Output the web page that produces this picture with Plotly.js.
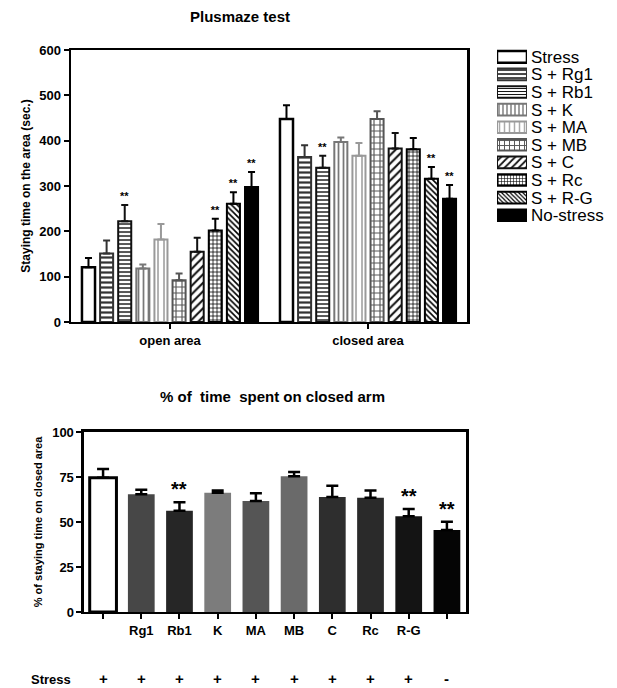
<!DOCTYPE html>
<html>
<head>
<meta charset="utf-8">
<script src="https://cdn.plot.ly/plotly-3.0.1.min.js"></script>
<style>html,body{margin:0;padding:0;background:#fff;}#chart{width:617px;height:688px;}</style>
</head>
<body>
<div id="chart"></div>
<script>
// ---------- Top chart data (Plusmaze test) ----------
const areaCategories = ['open area', 'closed area'];
const seriesNames = ['Stress', 'S + Rg1', 'S + Rb1', 'S + K', 'S + MA', 'S + MB', 'S + C', 'S + Rc', 'S + R-G', 'No-stress'];
const openMean   = [121, 151, 222, 118, 182, 92, 155, 202, 261, 298];
const openErr    = [20, 29, 36, 9, 34, 15, 31, 26, 25, 33];
const closedMean = [448, 364, 340, 397, 367, 448, 383, 381, 316, 272];
const closedErr  = [30, 26, 27, 10, 28, 17, 34, 25, 26, 30];
const openSig    = [false, false, true, false, false, false, false, true, true, true];
const closedSig  = [false, false, true, false, false, false, false, false, true, true];

// ---------- Bottom chart data (% of time on closed arm) ----------
const groupIds    = ['Stress', 'Rg1', 'Rb1', 'K', 'MA', 'MB', 'C', 'Rc', 'R-G', 'No-stress'];
const groupLabels = [' ', 'Rg1', 'Rb1', 'K', 'MA', 'MB', 'C', 'Rc', 'R-G', ' '];
const pctMean     = [74.6, 65.4, 56.2, 66.2, 61.6, 75.4, 63.9, 63.4, 53.2, 45.6];
const pctErr      = [4.8, 2.5, 4.8, 1.3, 4.3, 2.4, 6.3, 4.1, 4.0, 4.5];
const pctSig      = [false, false, true, false, false, false, false, false, true, true];
const stressSigns = ['+', '+', '+', '+', '+', '+', '+', '+', '+', '-'];

// ---------- Styles ----------
const topStyles = [
  {fill: '#ffffff', line: '#000', lw: 2.5, shape: '',  fg: '#000', size: 6, sol: 0.3},
  {fill: '#ffffff', line: '#333', lw: 2,   shape: '-', fg: '#333', size: 5, sol: 0.45},
  {fill: '#ffffff', line: '#111', lw: 2,   shape: '-', fg: '#111', size: 4, sol: 0.35},
  {fill: '#ffffff', line: '#777', lw: 2,   shape: '|', fg: '#777', size: 5, sol: 0.35},
  {fill: '#ffffff', line: '#999', lw: 2,   shape: '|', fg: '#aaa', size: 6, sol: 0.3},
  {fill: '#ffffff', line: '#555', lw: 2,   shape: '+', fg: '#555', size: 6, sol: 0.35},
  {fill: '#ffffff', line: '#111', lw: 2,   shape: '/', fg: '#111', size: 6, sol: 0.35},
  {fill: '#ffffff', line: '#000', lw: 2,   shape: '+', fg: '#000', size: 4, sol: 0.35},
  {fill: '#ffffff', line: '#000', lw: 2,   shape: '\\', fg: '#000', size: 4, sol: 0.4},
  {fill: '#000000', line: '#000', lw: 2,   shape: '',  fg: '#000', size: 6, sol: 0.3}
];
const bottomColors = ['#ffffff', '#474747', '#262626', '#7c7c7c', '#555555', '#6a6a6a', '#2e2e2e', '#2a2a2a', '#141414', '#050505'];

const FONT = 'Liberation Sans, Arial, Helvetica, sans-serif';
const traces = [];

function markerFor(st, sizeAdj) {
  const m = {color: st.fill, line: {color: st.line, width: st.lw}};
  if (st.shape) m.pattern = {shape: st.shape, fgcolor: st.fg, bgcolor: st.fill, size: st.size + (sizeAdj || 0), solidity: st.sol};
  return m;
}

seriesNames.forEach((name, i) => {
  const st = topStyles[i];
  traces.push({
    type: 'bar', name: name, x: areaCategories, y: [openMean[i], closedMean[i]],
    xaxis: 'x', yaxis: 'y', offsetgroup: 'g' + i, marker: markerFor(st), showlegend: false,
    error_y: {type: 'data', symmetric: false, array: [openErr[i], closedErr[i]], arrayminus: [0, 0],
              thickness: 2, width: 3.5, color: st.line},
    hoverinfo: 'skip'
  });
});
// invisible bars carrying the significance marks above the error bars
seriesNames.forEach((name, i) => {
  traces.push({
    type: 'bar', name: name + ' sig', showlegend: false, x: areaCategories,
    y: [openMean[i] + openErr[i], closedMean[i] + closedErr[i]],
    xaxis: 'x', yaxis: 'y', offsetgroup: 'g' + i,
    marker: {color: 'rgba(0,0,0,0)', line: {width: 0}},
    text: [openSig[i] ? '**' : '', closedSig[i] ? '**' : ''],
    textposition: 'outside', constraintext: 'none', cliponaxis: false, textangle: 0,
    textfont: {family: FONT, size: 11, color: '#000', weight: 'bold'},
    hoverinfo: 'skip'
  });
});

// legend key: wide swatches drawn as a small horizontal-bar panel, one trace per series
seriesNames.forEach((name, i) => {
  traces.push({
    type: 'bar', orientation: 'h', y: [name], x: [1], xaxis: 'x3', yaxis: 'y3', offsetgroup: 'legend',
    showlegend: false, width: 0.66, hoverinfo: 'skip', marker: markerFor(topStyles[i], -1)
  });
});

traces.push({
  type: 'bar', x: groupIds, y: pctMean, xaxis: 'x2', yaxis: 'y2', showlegend: false, width: 0.7,
  marker: {color: bottomColors, line: {color: bottomColors.map((c, i) => i === 0 ? '#000' : c), width: bottomColors.map((c, i) => i === 0 ? 3 : 0)}},
  error_y: {type: 'data', symmetric: false, array: pctErr, arrayminus: pctErr.map(() => 0), thickness: 2.5, width: 6, color: '#000'},
  hoverinfo: 'skip'
});

const annotations = [];
annotations.push({text: 'Plusmaze test', xref: 'paper', yref: 'paper', x: 0.389, y: 0.976, yanchor: 'middle', showarrow: false,
  font: {family: FONT, size: 15, color: '#000', weight: 'bold'}});
annotations.push({text: '% of  time  spent on closed arm', xref: 'paper', yref: 'paper', x: 0.441, y: 0.424, yanchor: 'middle', showarrow: false,
  font: {family: FONT, size: 15, color: '#000', weight: 'bold'}});
pctSig.forEach((s, i) => {
  if (s) annotations.push({text: '**', xref: 'x2', yref: 'y2', x: groupIds[i], y: pctMean[i] + pctErr[i], yanchor: 'bottom',
    showarrow: false, yshift: 0, font: {family: FONT, size: 20, color: '#000', weight: 'bold'}});
});
annotations.push({text: 'Stress', xref: 'paper', yref: 'paper', x: 0.047, y: 0.012, yanchor: 'middle', showarrow: false,
  font: {family: FONT, size: 13, color: '#000', weight: 'bold'}});
stressSigns.forEach((s, i) => {
  annotations.push({text: s, xref: 'x2', yref: 'paper', x: groupIds[i], y: 0.014, yanchor: 'middle', showarrow: false,
    font: {family: FONT, size: 15, color: '#000', weight: 'bold'}});
});

const axisCommon = {showline: true, linecolor: '#000', mirror: true, ticks: 'outside', tickcolor: '#000',
  showgrid: false, zeroline: false, automargin: false, fixedrange: true};

const layout = {
  width: 617, height: 688, margin: {l: 0, r: 0, t: 0, b: 0},
  paper_bgcolor: '#fff', plot_bgcolor: '#fff',
  font: {family: FONT, color: '#000'},
  barmode: 'group', bargap: 0.085, bargroupgap: 0.28,
  showlegend: false,
  xaxis: Object.assign({}, axisCommon, {domain: [0.1151, 0.7569], anchor: 'y', type: 'category', linewidth: 2.5,
    ticklen: 5, tickwidth: 2, tickfont: {family: FONT, size: 13, weight: 'bold'}}),
  yaxis: Object.assign({}, axisCommon, {domain: [0.532, 0.9273], anchor: 'x', range: [0, 600], dtick: 100, linewidth: 2.5,
    ticklen: 5, tickwidth: 2, tickfont: {family: FONT, size: 13, weight: 'bold'},
    title: {text: 'Staying time on the area (sec.)', standoff: 6, font: {family: FONT, size: 12, weight: 'bold'}}}),
  xaxis2: Object.assign({}, axisCommon, {domain: [0.1361, 0.7553], anchor: 'y2', type: 'category', linewidth: 2.5,
    ticklen: 5, tickwidth: 2, tickvals: groupIds, ticktext: groupLabels, tickfont: {family: FONT, size: 13, weight: 'bold'}}),
  yaxis2: Object.assign({}, axisCommon, {domain: [0.1105, 0.3721], anchor: 'x2', range: [0, 100], dtick: 25, linewidth: 2.5,
    ticklen: 5, tickwidth: 2, tickfont: {family: FONT, size: 13, weight: 'bold'},
    title: {text: '% of staying time on closed area', standoff: 8, font: {family: FONT, size: 11, weight: 'bold'}}}),
  xaxis3: {domain: [0.8055, 0.8541], anchor: 'y3', range: [0, 1], visible: false, fixedrange: true},
  yaxis3: {domain: [0.6744, 0.9302], anchor: 'x3', type: 'category', autorange: 'reversed', side: 'right',
    tickmode: 'array', tickvals: seriesNames, ticktext: seriesNames,
    showline: false, showgrid: false, zeroline: false, ticks: '', ticklabelstandoff: 3, automargin: false, fixedrange: true,
    tickfont: {family: FONT, size: 17, color: '#000'}},
  annotations: annotations
};

Plotly.newPlot('chart', traces, layout, {staticPlot: true, displayModeBar: false});
</script>
</body>
</html>
